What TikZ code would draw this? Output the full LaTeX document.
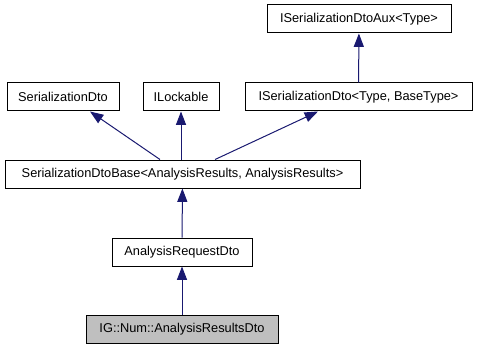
\documentclass[tikz,border=0pt]{standalone}
\usepackage{fontspec}
\setmainfont{Liberation Sans}
\usetikzlibrary{arrows.meta}

\definecolor{edgeblue}{HTML}{191970}
\definecolor{selgray}{HTML}{BFBFBF}

\begin{document}
\begin{tikzpicture}[
        classnode/.style={rectangle, draw=black, fill=white, line width=0.75pt, minimum height=28*0.75pt, inner xsep=0pt, font=\fontsize{9.6}{11}\selectfont},
        selnode/.style={classnode, fill=selgray},
        arrow/.style = {draw=edgeblue, line width=0.75pt, {Triangle[length=10pt, width=7.5pt, fill=edgeblue]}-},
        x=0.75pt,y=-0.75pt,
    ]
    \useasboundingbox (0,0) rectangle (477,349);
    \node[classnode, minimum width=184*0.75pt] (aux) at (359,19) {ISerializationDtoAux<Type>};
    \node[classnode, minimum width=112*0.75pt] (sdto) at (63,97) {SerializationDto};
    \node[classnode, minimum width=76*0.75pt] (lock) at (181,97) {ILockable};
    \node[classnode, minimum width=227*0.75pt] (isdto) at (358.5,97) {ISerializationDto<Type, BaseType>};
    \node[classnode, minimum width=355*0.75pt] (base) at (182.5,174) {SerializationDtoBase<AnalysisResults, AnalysisResults>};
    \node[classnode, minimum width=140*0.75pt] (req) at (182,252) {AnalysisRequestDto};
    \node[selnode, minimum width=192*0.75pt] (res) at (182,329.5) {IG::Num::AnalysisResultsDto};
    \draw [arrow] (aux) -- (isdto);
    \draw [arrow] ([xshift=20.25pt]sdto.south) -- ([xshift=-16.9pt]base.north);
    \draw [arrow] (lock) -- (lock |- base.north);
    \draw [arrow] ([xshift=-30.4pt]isdto.south) -- ([xshift=24.4pt]base.north);
    \draw [arrow] (base) -- (req);
    \draw [arrow] (req) -- (res);
\end{tikzpicture}
\end{document}
